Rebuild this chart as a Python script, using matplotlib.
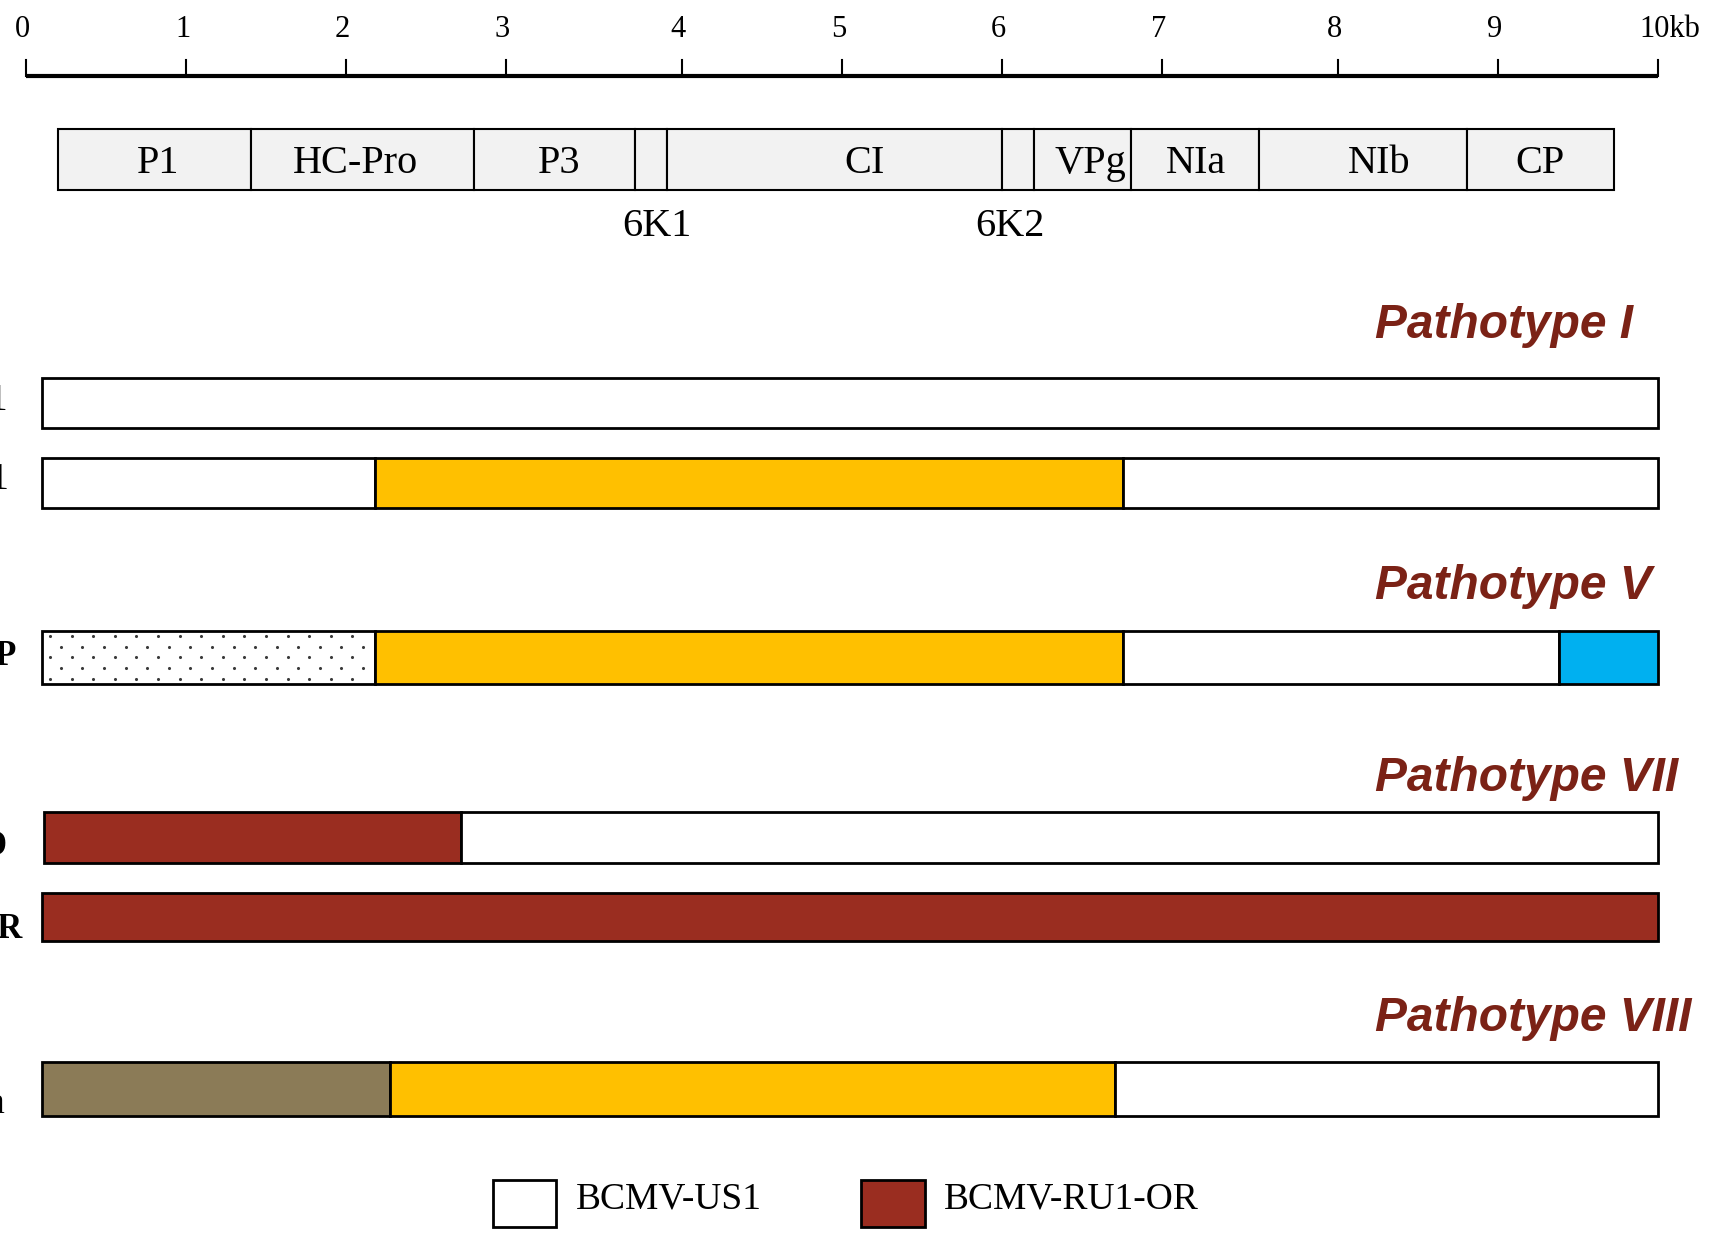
import numpy as np
import matplotlib
matplotlib.use("Agg")
import matplotlib.pyplot as plt

# escala em kb (posicoes medidas da regua)
tick_pos = [0, 0.980, 1.961, 2.941, 4.018, 4.999, 5.981, 6.960, 8.038, 9.020, 10.0]
tick_lab = ["0", "1", "2", "3", "4", "5", "6", "7", "8", "9", "10kb"]

# mapa do genoma: limites das proteinas (kb) e posicao dos nomes
prot_edges = [0.20, 1.377, 2.747, 3.730, 3.930, 5.983, 6.176, 6.771, 7.553, 8.830, 9.733]
prot_names = ["P1", "HC-Pro", "P3", "", "CI", "", "VPg", "NIa", "NIb", "CP"]
prot_lab_x = [0.811, 2.020, 3.270, None, 5.141, None, 6.524, 7.172, 8.295, 9.277]
small_names = ["6K1", "6K2"]
small_lab_x = [3.864, 6.029]

# isolados: nome, negrito, y, altura, segmentos (inicio, fim, cor, pontilhado)
YELLOW = "#FFC000"
BLUE = "#00B0F0"
RED = "#9A2D20"
OLIVE = "#8B7B57"
WHITE = "white"

row_names = ["US1", "NL1", "RU1-P", "RU1-D", "RU1-OR", "1755a"]
row_bold = [False, False, True, True, True, False]
row_y = [370, 443, 603, 768, 841, 999]
row_h = [46, 46, 49, 47, 44, 49]
row_segs = [
    [(0.10, 10.0, WHITE, False)],
    [(0.10, 2.139, WHITE, False), (2.139, 6.725, YELLOW, False), (6.725, 10.0, WHITE, False)],
    [(0.10, 2.139, WHITE, True), (2.139, 6.725, YELLOW, False), (6.725, 9.392, WHITE, False),
     (9.392, 10.0, BLUE, False)],
    [(0.114, 2.667, RED, False), (2.667, 10.0, WHITE, False)],
    [(0.10, 10.0, RED, False)],
    [(0.10, 2.233, OLIVE, False), (2.233, 6.671, YELLOW, False), (6.671, 10.0, WHITE, False)],
]
label_x = [-0.108, -0.098, -0.055, -0.115, -0.018, -0.125]
label_base = [376, 449, 610, 784, 860, 1021]

pathotypes = ["Pathotype I", "Pathotype V", "Pathotype VII", "Pathotype VIII"]
patho_y = [299, 538, 714, 934]

legend_names = ["BCMV-US1", "BCMV-RU1-OR"]
legend_cols = [WHITE, RED]
legend_x = [2.861, 5.120]

SERIF = ["Liberation Serif", "DejaVu Serif"]
SANS = ["Liberation Sans", "DejaVu Sans"]
TITLE_COL = "#7B2216"


'''
    Textura de pontos alternados dentro de um segmento
'''
def pontilhar(ax, a, b, y, h):
    dx = 0.1323
    dy = 9.9
    for k, yy in enumerate(np.arange(y - 2 * dy, y + 2 * dy + 1, dy)):
        x0 = a + 0.048 if k % 2 == 0 else a + 0.048 + dx / 2
        xs = np.arange(x0, b - 0.02, dx)
        ax.scatter(xs, np.full(len(xs), yy), s=5, color="#3a3a3a", lw=0, zorder=3)


def main():
    fig = plt.figure(figsize=(17.1, 12.33), dpi=100)
    ax = fig.add_axes([0, 0, 1, 1])
    ax.set_xlim(-23.7 / 149.65, (1568 - 23.7) / 149.65)
    ax.set_ylim(1131, 0)
    ax.axis("off")

    # regua
    ax.plot([tick_pos[0], tick_pos[-1]], [70, 70], color="black", lw=3, solid_capstyle="butt")
    for p, lab in zip(tick_pos, tick_lab):
        ax.plot([p, p], [55, 70], color="black", lw=1.5)
        if lab == "10kb":
            ax.text(9.886, 27, lab, ha="left", va="center", fontsize=22, family=SERIF)
        else:
            ax.text(p - 0.02, 27, lab, ha="center", va="center", fontsize=22, family=SERIF)

    # proteinas
    for i, name in enumerate(prot_names):
        a, b = prot_edges[i], prot_edges[i + 1]
        ax.barh(146, b - a, left=a, height=56, color="#F2F2F2", edgecolor="black", lw=1.5)
        if name:
            ax.text(prot_lab_x[i], 150, name, ha="center", va="center", fontsize=29, family=SERIF)
    for name, x in zip(small_names, small_lab_x):
        ax.text(x, 208, name, ha="center", va="center", fontsize=29, family=SERIF)

    # titulos
    for t, y in zip(pathotypes, patho_y):
        ax.text(8.264, y, t, ha="left", va="center", fontsize=34.5, family=SANS,
                fontweight="bold", style="italic", color=TITLE_COL)

    # isolados
    for i in range(len(row_names)):
        y, h = row_y[i], row_h[i]
        for a, b, c, dots in row_segs[i]:
            ax.barh(y, b - a, left=a, height=h, color=c, edgecolor="black", lw=2)
            if dots:
                pontilhar(ax, a, b, y, h)
        bold = row_bold[i]
        ax.text(label_x[i], label_base[i], row_names[i], ha="right", va="baseline",
                fontsize=25 if bold else 27, family=SERIF,
                fontweight="bold" if bold else "normal")

    # legenda
    for name, c, x in zip(legend_names, legend_cols, legend_x):
        ax.barh(1104, 0.388, left=x, height=43, color=c, edgecolor="black", lw=2)
        ax.text(x + 0.508, 1100, name, ha="left", va="center", fontsize=27, family=SERIF)

    fig.savefig("out.png", dpi=100)


if __name__ == "__main__":
    main()
